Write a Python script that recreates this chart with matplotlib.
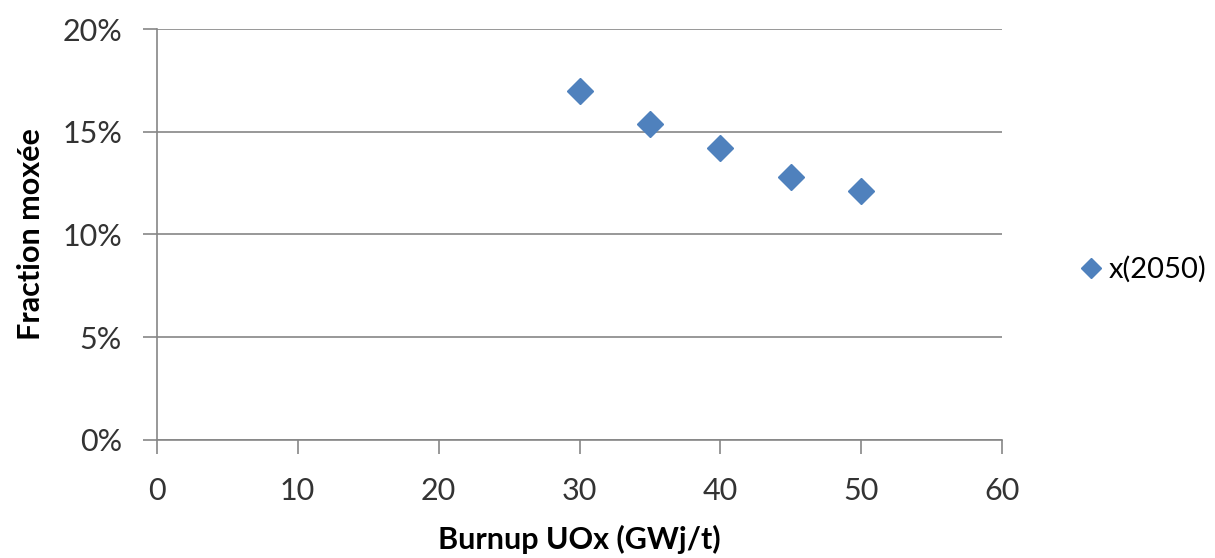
import matplotlib.pyplot as plt
from matplotlib.ticker import PercentFormatter

# data
burnup = [30, 35, 40, 45, 50]
fraction = [0.170, 0.154, 0.142, 0.128, 0.121]
series_name = "x(2050)"

plt.rcParams['font.family'] = ['Lato', 'DejaVu Sans']

fig = plt.figure(figsize=(12.15, 5.58), dpi=100)
ax = fig.add_axes([0.129, 0.2115, 0.696, 0.7365])

ax.plot(burnup, fraction, linestyle='none', marker='D', markersize=13,
        color='#4F81BD', label=series_name, zorder=3)

ax.set_xlim(0, 60)
ax.set_ylim(0, 0.20)
ax.set_xticks(range(0, 61, 10))
ax.set_yticks([0, 0.05, 0.10, 0.15, 0.20])
ax.yaxis.set_major_formatter(PercentFormatter(1.0, decimals=0))

ax.grid(axis='y', color='#868686', linewidth=1.2)
ax.set_axisbelow(True)
for s in ['top', 'right']:
    ax.spines[s].set_visible(False)
for s in ['left', 'bottom']:
    ax.spines[s].set_color('#868686')
    ax.spines[s].set_linewidth(1.2)

ax.tick_params(axis='both', colors='#868686', length=10, width=1.2,
               labelsize=22, labelcolor='#333333')
ax.tick_params(axis='x', pad=17)
ax.tick_params(axis='y', pad=15)

ax.set_xlabel('Burnup UOx (GWj/t)', fontsize=22, fontweight='bold', labelpad=14)
ax.set_ylabel('Fraction moxée', fontsize=22, fontweight='bold', labelpad=12)

leg = ax.legend(loc='center left', bbox_to_anchor=(1.07, 0.415), frameon=False,
                fontsize=21, handletextpad=0.1, markerscale=0.75,
                handlelength=1.0, borderpad=0)

fig.savefig('out.png', dpi=100)
